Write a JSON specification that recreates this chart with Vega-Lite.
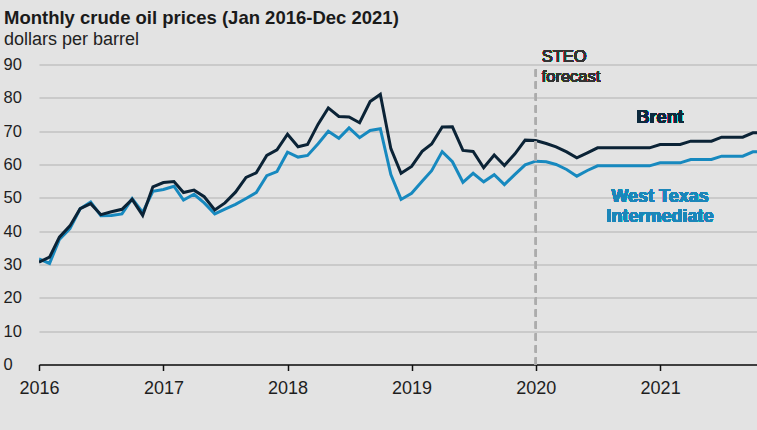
{
  "$schema": "https://vega.github.io/schema/vega-lite/v6.json",
  "width": 718,
  "height": 300,
  "autosize": {"type": "none"},
  "padding": {"left": 39, "top": 64.5, "right": 0, "bottom": 65.5},
  "background": "#e3e3e3",
  "title": {
    "text": "Monthly crude oil prices (Jan 2016-Dec 2021)",
    "subtitle": "dollars per barrel",
    "anchor": "start",
    "frame": "group",
    "dx": -35,
    "font": "Liberation Sans",
    "fontSize": 18.5,
    "fontWeight": "bold",
    "color": "#1a1a1a",
    "subtitleFont": "Liberation Sans",
    "subtitleFontSize": 18,
    "subtitleColor": "#222222",
    "subtitlePadding": 3,
    "offset": 0
  },
  "config": {
    "font": "Liberation Sans",
    "view": {"stroke": null},
    "axis": {"labelFont": "Liberation Sans", "labelColor": "#1e1e1e", "title": null},
    "axisY": {
      "tickCount": 9,
      "domain": false,
      "ticks": false,
      "grid": true,
      "gridColor": "#c2c2c2",
      "gridWidth": 1.5,
      "labelAlign": "left",
      "labelPadding": 36,
      "labelFontSize": 16.5,
      "labelOverlap": false,
      "title": null
    },
    "axisX": {
      "grid": false,
      "domain": true,
      "domainColor": "#111111",
      "domainWidth": 1.5,
      "ticks": true,
      "tickColor": "#111111",
      "tickWidth": 1.5,
      "tickSize": 6,
      "labelFontSize": 18,
      "labelPadding": 9,
      "labelFlush": false,
      "title": null
    }
  },
  "data": {
    "values": [
      {"date": "2016-01-01", "Brent": 30.70, "WTI": 31.68},
      {"date": "2016-02-01", "Brent": 32.18, "WTI": 30.32},
      {"date": "2016-03-01", "Brent": 38.21, "WTI": 37.55},
      {"date": "2016-04-01", "Brent": 41.58, "WTI": 40.75},
      {"date": "2016-05-01", "Brent": 46.74, "WTI": 46.71},
      {"date": "2016-06-01", "Brent": 48.25, "WTI": 48.76},
      {"date": "2016-07-01", "Brent": 44.95, "WTI": 44.65},
      {"date": "2016-08-01", "Brent": 45.84, "WTI": 44.72},
      {"date": "2016-09-01", "Brent": 46.57, "WTI": 45.18},
      {"date": "2016-10-01", "Brent": 49.52, "WTI": 49.78},
      {"date": "2016-11-01", "Brent": 44.73, "WTI": 45.66},
      {"date": "2016-12-01", "Brent": 53.31, "WTI": 51.97},
      {"date": "2017-01-01", "Brent": 54.58, "WTI": 52.50},
      {"date": "2017-02-01", "Brent": 54.87, "WTI": 53.47},
      {"date": "2017-03-01", "Brent": 51.59, "WTI": 49.33},
      {"date": "2017-04-01", "Brent": 52.31, "WTI": 51.06},
      {"date": "2017-05-01", "Brent": 50.33, "WTI": 48.48},
      {"date": "2017-06-01", "Brent": 46.37, "WTI": 45.18},
      {"date": "2017-07-01", "Brent": 48.48, "WTI": 46.63},
      {"date": "2017-08-01", "Brent": 51.70, "WTI": 48.04},
      {"date": "2017-09-01", "Brent": 56.15, "WTI": 49.82},
      {"date": "2017-10-01", "Brent": 57.51, "WTI": 51.58},
      {"date": "2017-11-01", "Brent": 62.71, "WTI": 56.64},
      {"date": "2017-12-01", "Brent": 64.37, "WTI": 57.88},
      {"date": "2018-01-01", "Brent": 69.08, "WTI": 63.70},
      {"date": "2018-02-01", "Brent": 65.32, "WTI": 62.23},
      {"date": "2018-03-01", "Brent": 66.02, "WTI": 62.73},
      {"date": "2018-04-01", "Brent": 72.11, "WTI": 66.25},
      {"date": "2018-05-01", "Brent": 76.98, "WTI": 69.98},
      {"date": "2018-06-01", "Brent": 74.41, "WTI": 67.87},
      {"date": "2018-07-01", "Brent": 74.25, "WTI": 70.98},
      {"date": "2018-08-01", "Brent": 72.53, "WTI": 68.06},
      {"date": "2018-09-01", "Brent": 78.89, "WTI": 70.23},
      {"date": "2018-10-01", "Brent": 81.03, "WTI": 70.75},
      {"date": "2018-11-01", "Brent": 64.75, "WTI": 56.96},
      {"date": "2018-12-01", "Brent": 57.36, "WTI": 49.52},
      {"date": "2019-01-01", "Brent": 59.41, "WTI": 51.38},
      {"date": "2019-02-01", "Brent": 63.96, "WTI": 54.95},
      {"date": "2019-03-01", "Brent": 66.14, "WTI": 58.15},
      {"date": "2019-04-01", "Brent": 71.23, "WTI": 63.86},
      {"date": "2019-05-01", "Brent": 71.32, "WTI": 60.83},
      {"date": "2019-06-01", "Brent": 64.22, "WTI": 54.66},
      {"date": "2019-07-01", "Brent": 63.92, "WTI": 57.35},
      {"date": "2019-08-01", "Brent": 59.04, "WTI": 54.81},
      {"date": "2019-09-01", "Brent": 62.83, "WTI": 56.95},
      {"date": "2019-10-01", "Brent": 59.71, "WTI": 53.96},
      {"date": "2019-11-01", "Brent": 63.21, "WTI": 57.03},
      {"date": "2019-12-01", "Brent": 67.31, "WTI": 59.88},
      {"date": "2020-01-01", "Brent": 67.2, "WTI": 61.0},
      {"date": "2020-02-01", "Brent": 66.3, "WTI": 60.8},
      {"date": "2020-03-01", "Brent": 65.3, "WTI": 60.0},
      {"date": "2020-04-01", "Brent": 63.8, "WTI": 58.5},
      {"date": "2020-05-01", "Brent": 62.0, "WTI": 56.5},
      {"date": "2020-06-01", "Brent": 63.5, "WTI": 58.2},
      {"date": "2020-07-01", "Brent": 65.0, "WTI": 59.6},
      {"date": "2020-08-01", "Brent": 65.0, "WTI": 59.6},
      {"date": "2020-09-01", "Brent": 65.0, "WTI": 59.6},
      {"date": "2020-10-01", "Brent": 65.0, "WTI": 59.6},
      {"date": "2020-11-01", "Brent": 65.0, "WTI": 59.6},
      {"date": "2020-12-01", "Brent": 65.0, "WTI": 59.6},
      {"date": "2021-01-01", "Brent": 66.0, "WTI": 60.5},
      {"date": "2021-02-01", "Brent": 66.0, "WTI": 60.5},
      {"date": "2021-03-01", "Brent": 66.0, "WTI": 60.5},
      {"date": "2021-04-01", "Brent": 67.0, "WTI": 61.5},
      {"date": "2021-05-01", "Brent": 67.0, "WTI": 61.5},
      {"date": "2021-06-01", "Brent": 67.0, "WTI": 61.5},
      {"date": "2021-07-01", "Brent": 68.2, "WTI": 62.5},
      {"date": "2021-08-01", "Brent": 68.2, "WTI": 62.5},
      {"date": "2021-09-01", "Brent": 68.2, "WTI": 62.5},
      {"date": "2021-10-01", "Brent": 69.5, "WTI": 63.8},
      {"date": "2021-11-01", "Brent": 69.5, "WTI": 63.8},
      {"date": "2021-12-01", "Brent": 69.5, "WTI": 63.8}
    ]
  },
  "encoding": {
    "x": {
      "field": "date",
      "type": "temporal",
      "scale": {
        "type": "utc",
        "domain": [
          {"year": 2016, "month": 1, "date": 1, "utc": true},
          {"year": 2021, "month": 10, "date": 13, "utc": true}
        ],
        "nice": false
      },
      "axis": {
        "format": "%Y",
        "tickCount": {"interval": "year", "step": 1}
      }
    }
  },
  "layer": [
    {
      "mark": {"type": "line", "color": "#1789bf", "strokeWidth": 3, "clip": true},
      "encoding": {
        "y": {
          "field": "WTI",
          "type": "quantitative",
          "scale": {"domain": [0, 90], "nice": false}
        }
      }
    },
    {
      "mark": {"type": "line", "color": "#0b2336", "strokeWidth": 3, "clip": true},
      "encoding": {
        "y": {"field": "Brent", "type": "quantitative"}
      }
    },
    {
      "mark": {"type": "rule", "color": "#acacac", "strokeWidth": 1.5, "strokeDash": [7, 5]},
      "encoding": {
        "x": {"datum": {"year": 2020, "month": 1, "date": 1, "utc": true}, "type": "temporal"},
        "y": {"datum": 0, "type": "quantitative"},
        "y2": {"datum": 90}
      }
    },
    {
      "mark": {"type": "text", "align": "left", "baseline": "alphabetic", "dx": 6, "fontSize": 16.5, "color": "#333333", "lineHeight": 20, "lineBreak": "\n"},
      "encoding": {
        "x": {"datum": {"year": 2020, "month": 1, "date": 1, "utc": true}, "type": "temporal"},
        "y": {"datum": 90.9, "type": "quantitative"},
        "text": {"value": "STEO\nforecast"}
      }
    },
    {
      "mark": {"type": "text", "align": "center", "baseline": "middle", "fontSize": 18, "fontWeight": "bold", "color": "#0d2a3e"},
      "encoding": {
        "x": {"datum": {"year": 2021, "month": 1, "date": 1, "utc": true}, "type": "temporal"},
        "y": {"datum": 74, "type": "quantitative"},
        "text": {"value": "Brent"}
      }
    },
    {
      "mark": {"type": "text", "align": "center", "baseline": "middle", "fontSize": 18, "fontWeight": "bold", "color": "#1b86b9", "lineHeight": 20, "lineBreak": "\n"},
      "encoding": {
        "x": {"datum": {"year": 2021, "month": 1, "date": 1, "utc": true}, "type": "temporal"},
        "y": {"datum": 50.25, "type": "quantitative"},
        "text": {"value": "West Texas\nIntermediate"}
      }
    }
  ]
}
